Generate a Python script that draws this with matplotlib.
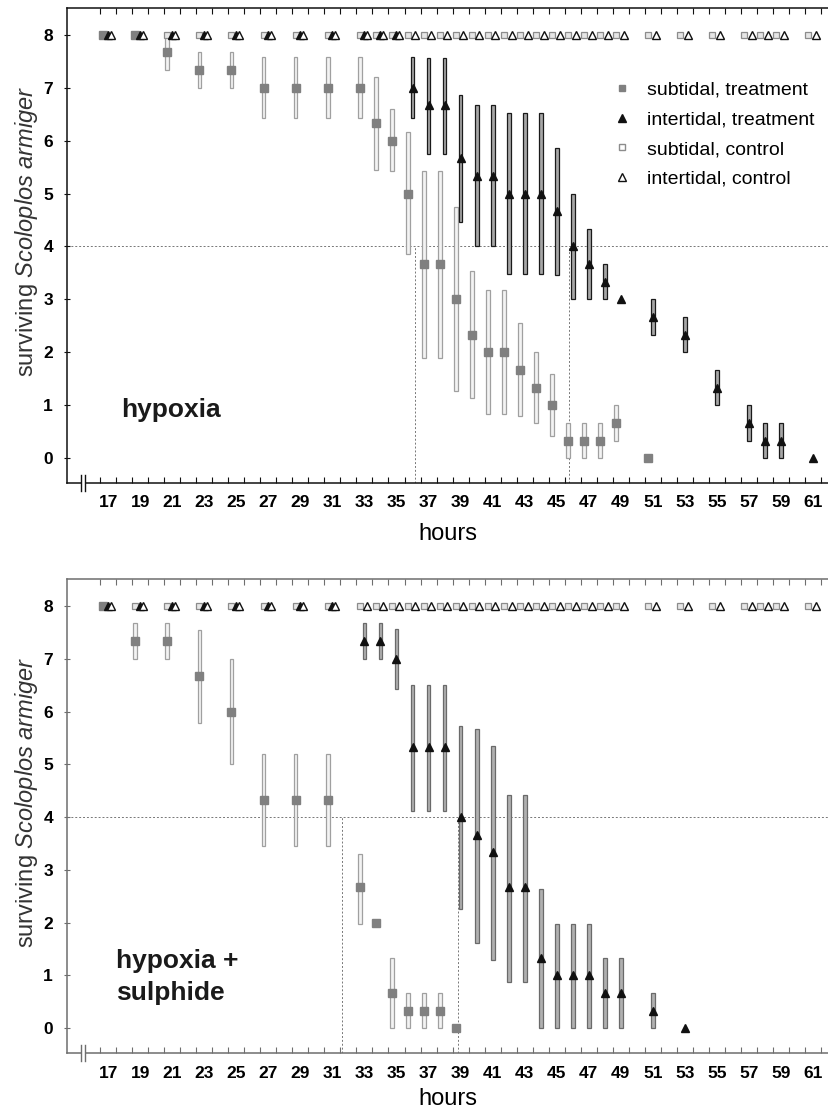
import numpy as np
import matplotlib
matplotlib.use('Agg')
import matplotlib.pyplot as plt
from matplotlib.lines import Line2D
from matplotlib.patches import Rectangle

# ---- hypoxia (top panel) ----
hyp_sub_hours = [17, 19, 21, 23, 25, 27, 29, 31, 33, 34, 35, 36, 37, 38, 39, 40, 41, 42, 43, 44, 45, 46, 47, 48, 49, 51]
hyp_sub_mean = [8, 8, 7.67, 7.33, 7.33, 7, 7, 7, 7, 6.33, 6, 5, 3.67, 3.67, 3, 2.33, 2, 2, 1.67, 1.33, 1, 0.33, 0.33, 0.33, 0.67, 0]
hyp_sub_low = [8, 8, 7.33, 7.0, 7.0, 6.42, 6.42, 6.42, 6.42, 5.45, 5.43, 3.86, 1.9, 1.9, 1.26, 1.13, 0.83, 0.83, 0.8, 0.67, 0.42, 0, 0, 0, 0.33, 0]
hyp_sub_high = [8, 8, 8.0, 7.67, 7.67, 7.58, 7.58, 7.58, 7.58, 7.21, 6.6, 6.16, 5.43, 5.43, 4.74, 3.54, 3.17, 3.17, 2.55, 2.0, 1.58, 0.67, 0.67, 0.67, 1.0, 0]

hyp_int_hours = [17, 19, 21, 23, 25, 27, 29, 31, 33, 34, 35, 36, 37, 38, 39, 40, 41, 42, 43, 44, 45, 46, 47, 48, 49,
                 51, 53, 55, 57, 58, 59, 61]
hyp_int_mean = [8, 8, 8, 8, 8, 8, 8, 8, 8, 8, 8, 7, 6.67, 6.67, 5.67, 5.33, 5.33, 5, 5, 5, 4.67, 4, 3.67, 3.33, 3,
                2.67, 2.33, 1.33, 0.67, 0.33, 0.33, 0]
hyp_int_low = [8, 8, 8, 8, 8, 8, 8, 8, 8, 8, 8, 6.42, 5.75, 5.75, 4.47, 4.0, 4.0, 3.48, 3.48, 3.48, 3.46, 3.0, 3.0, 3.0, 3.0,
               2.33, 2.0, 1.0, 0.33, 0, 0, 0]
hyp_int_high = [8, 8, 8, 8, 8, 8, 8, 8, 8, 8, 8, 7.58, 7.56, 7.56, 6.87, 6.67, 6.67, 6.53, 6.53, 6.53, 5.87, 5.0, 4.33, 3.67, 3.0,
                3.0, 2.67, 1.67, 1.0, 0.67, 0.67, 0]
hyp_lt50 = [36.17, 45.8]

# ---- hypoxia + sulphide (bottom panel) ----
sul_sub_hours = [17, 19, 21, 23, 25, 27, 29, 31, 33, 34, 35, 36, 37, 38, 39]
sul_sub_mean = [8, 7.33, 7.33, 6.67, 6, 4.33, 4.33, 4.33, 2.67, 2, 0.67, 0.33, 0.33, 0.33, 0]
sul_sub_low = [8, 7.0, 7.0, 5.78, 5.0, 3.45, 3.45, 3.45, 1.98, 2, 0, 0, 0, 0, 0]
sul_sub_high = [8, 7.67, 7.67, 7.54, 7.0, 5.2, 5.2, 5.2, 3.31, 2, 1.33, 0.67, 0.67, 0.67, 0]

sul_int_hours = [17, 19, 21, 23, 25, 27, 29, 31, 33, 34, 35, 36, 37, 38, 39, 40, 41, 42, 43, 44, 45, 46, 47, 48, 49, 51, 53]
sul_int_mean = [8, 8, 8, 8, 8, 8, 8, 8, 7.33, 7.33, 7.0, 5.33, 5.33, 5.33, 4.0, 3.67, 3.33, 2.67, 2.67, 1.33, 1.0, 1.0, 1.0,
                0.67, 0.67, 0.33, 0]
sul_int_low = [8, 8, 8, 8, 8, 8, 8, 8, 7.0, 7.0, 6.42, 4.12, 4.12, 4.12, 2.25, 1.62, 1.29, 0.88, 0.88, 0, 0, 0, 0,
               0, 0, 0, 0]
sul_int_high = [8, 8, 8, 8, 8, 8, 8, 8, 7.67, 7.67, 7.56, 6.51, 6.51, 6.51, 5.72, 5.67, 5.34, 4.41, 4.41, 2.64, 1.97, 1.97, 1.97,
                1.33, 1.33, 0.67, 0]
sul_lt50 = [31.6, 38.86]

# controls: all 8 animals survived at every check
control_hours = [17, 19, 21, 23, 25, 27, 29, 31] + list(range(33, 50)) + [51, 53, 55, 57, 58, 59, 61]
control_alive = [8] * len(control_hours)

tick_labels = list(range(17, 62, 2))

plt.rcParams['font.family'] = ['Liberation Sans', 'DejaVu Sans']
plt.rcParams['mathtext.fontset'] = 'custom'
plt.rcParams['mathtext.rm'] = 'Liberation Sans'
plt.rcParams['mathtext.it'] = 'Liberation Sans:italic'

SUB_OFF = -0.3
CTRL_OFF = 0.18


def draw_panel(ax, sub, intr, lt50, spine_col, int_face, int_edge, xlabel_y):
    sh, sm, sl, su = [np.array(a, dtype=float) for a in sub]
    ih, im, il, iu = [np.array(a, dtype=float) for a in intr]

    # error ranges as narrow boxes
    m = su > sl
    ax.bar(sh[m] + SUB_OFF, su[m] - sl[m], bottom=sl[m], width=0.24,
           facecolor='#f3f3f3', edgecolor='#a0a0a0', linewidth=0.9, zorder=2)
    m = iu > il
    ax.bar(ih[m], iu[m] - il[m], bottom=il[m], width=0.24,
           facecolor=int_face, edgecolor=int_edge, linewidth=0.9, zorder=2)

    ch = np.array(control_hours, dtype=float)
    ax.plot(ch + SUB_OFF, control_alive, 's', ms=4.8, mfc='#e6e6e6', mec='#8c8c8c', mew=0.9, ls='none', zorder=3)
    ax.plot(sh + SUB_OFF, sm, 's', ms=6, color='#808080', ls='none', zorder=4)
    ax.plot(ih, im, '^', ms=6.3, color='#111111', ls='none', zorder=5)
    ax.plot(ch + CTRL_OFF, control_alive, '^', ms=6.0, mfc='white', mec='#111111', mew=1.0, ls='none', zorder=6)

    ax.set_xlim(14.43, 62.0)
    ax.set_ylim(-0.47, 8.51)

    ax.axhline(4, color='#777777', lw=0.7, ls=(0, (2, 2)), zorder=1)
    for x in lt50:
        ax.plot([x, x], [-0.47, 4], color='#777777', lw=0.7, ls=(0, (2, 2)), zorder=1)

    ax.set_xticks(tick_labels)
    ax.set_xticklabels([str(t) for t in tick_labels], fontsize=12.5, fontweight='bold')
    ax.set_xticks(np.arange(16.5, 62, 1), minor=True)
    ax.tick_params(axis='x', which='major', length=0, pad=9)
    ax.tick_params(axis='x', which='minor', direction='in', length=4, width=0.8,
                   top=True, color=spine_col)
    ax.set_yticks(range(0, 9))
    ax.set_yticklabels([str(t) for t in range(0, 9)], fontsize=12.5, fontweight='bold')
    ax.tick_params(axis='y', direction='inout', length=4, width=0.8, pad=8, color=spine_col)

    for s in ['left', 'bottom', 'top']:
        ax.spines[s].set_color(spine_col)
        ax.spines[s].set_linewidth(1.1)
    ax.spines['right'].set_visible(False)

    # axis break on the x axis
    trans = ax.get_xaxis_transform()
    ax.add_patch(Rectangle((15.3, -0.016), 0.25, 0.032, transform=trans, facecolor='white',
                           edgecolor='none', clip_on=False, zorder=10))
    for x in (15.3, 15.55):
        ax.plot([x, x], [-0.016, 0.016], transform=trans, color=spine_col, lw=1.0,
                clip_on=False, zorder=11)

    ax.set_xlabel('hours', fontsize=17)
    ax.xaxis.set_label_coords(0.5, xlabel_y)
    ax.set_ylabel('surviving $\\mathit{Scoloplos\\ armiger}$', fontsize=17, color='#333333')
    ax.yaxis.set_label_coords(-0.036, 0.53)


fig = plt.figure(figsize=(8.29, 11.12), dpi=100)

ax1 = fig.add_axes([0.0808, 0.5657, 0.9192, 0.4272])
draw_panel(ax1, (hyp_sub_hours, hyp_sub_mean, hyp_sub_low, hyp_sub_high),
           (hyp_int_hours, hyp_int_mean, hyp_int_low, hyp_int_high),
           hyp_lt50, '#111111', '#a6a6a6', '#1a1a1a', -0.084)
ax1.text(17.84, 0.91, 'hypoxia', fontsize=19, fontweight='bold', va='center', ha='left', color='#1a1a1a')

handles = [Line2D([], [], marker='s', ms=5, color='#808080', ls='none'),
           Line2D([], [], marker='^', ms=5.5, color='#111111', ls='none'),
           Line2D([], [], marker='s', ms=5, mfc='white', mec='#8c8c8c', ls='none'),
           Line2D([], [], marker='^', ms=5.5, mfc='white', mec='#111111', ls='none')]
ax1.legend(handles, ['subtidal, treatment', 'intertidal, treatment', 'subtidal, control', 'intertidal, control'],
           loc='upper left', bbox_to_anchor=(0.705, 0.862), frameon=False, fontsize=14,
           handlelength=1.0, handletextpad=0.8, labelspacing=0.62, borderaxespad=0)

ax2 = fig.add_axes([0.0808, 0.053, 0.9192, 0.4263])
draw_panel(ax2, (sul_sub_hours, sul_sub_mean, sul_sub_low, sul_sub_high),
           (sul_int_hours, sul_int_mean, sul_int_low, sul_int_high),
           sul_lt50, '#6e6e6e', '#b0b0b0', '#6a6a6a', -0.074)
ax2.text(17.5, 0.97, 'hypoxia +\nsulphide', fontsize=19, fontweight='bold', va='center', ha='left',
         color='#1a1a1a', linespacing=1.45)

fig.savefig('out.png', dpi=100)
